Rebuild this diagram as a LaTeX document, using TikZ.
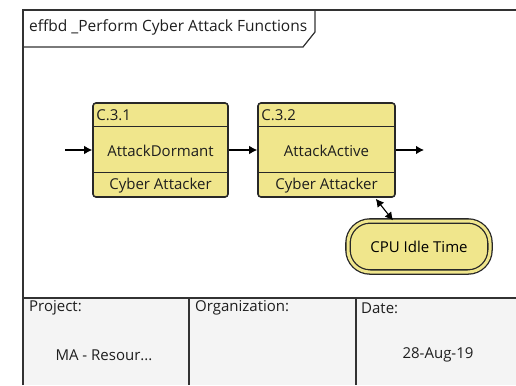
\documentclass[tikz,border=0pt]{standalone}
\usepackage{fontspec}
\setmainfont{Open Sans}
\usetikzlibrary{arrows.meta, positioning, calc}
\definecolor{fnfill}{RGB}{240,230,140}
\definecolor{fnline}{RGB}{40,40,40}
\definecolor{frameline}{RGB}{50,50,50}
\definecolor{cellfill}{RGB}{244,244,244}
\definecolor{txtgray}{RGB}{30,30,30}

\begin{document}
\begin{tikzpicture}[
  x=1pt, y=-1pt,
  font=\fontsize{15}{18}\selectfont,
  fn/.style={draw=fnline, fill=fnfill, rounded corners=3pt, line width=1.6pt,
             minimum width=135pt, minimum height=94pt, inner sep=0pt},
  res/.style={draw=fnline, fill=fnfill, rounded corners=22pt, line width=1.3pt,
              double=fnfill, double distance=3pt, minimum width=142pt,
              minimum height=51pt},
  sep/.style={draw=fnline, line width=1.3pt},
  lbl/.style={inner sep=0pt, text=txtgray},
  flow/.style={-{Latex[length=8pt, width=8.5pt]}, line width=1.1pt},
  biflow/.style={{Latex[length=8pt, width=8.5pt]}-{Latex[length=8pt, width=8.5pt]}, line width=1.1pt},
  frm/.style={draw=frameline, line width=1.8pt},
  cell/.style={font=\fontsize{15}{18}\selectfont, inner sep=0pt, text=txtgray},
]
\useasboundingbox (0,0) rectangle (516,385);

% frame, title tab and footer
\fill[cellfill] (23,298) rectangle (516,385);
\draw[frm] (23,385) -- (23,10) -- (516,10);
\draw[frm, line width=1.2pt] (315,10) -- (315,32) -- (303,47) -- (23,47);
\node[lbl, anchor=west, font=\fontsize{15.5}{18}\selectfont] (title) at (29,27)
  {effbd \_Perform Cyber Attack Functions};
\draw[frm] (23,298) -- (516,298);
\draw[frm] (189,298) -- (189,385);
\draw[frm] (356,298) -- (356,385);
\node[cell, anchor=west] (proj) at (29,308) {Project:};
\node[cell, anchor=west] (org) at (195,308) {Organization:};
\node[cell, anchor=west] (date) at (361,308) {Date:};
\node[cell] (projval) at (104,355) {MA - Resour...};
\node[cell] (dateval) at (438,355) {28-Aug-19};

% functions
\node[fn] (dormant) at (160.5,150) {};
\node[fn, minimum width=137pt] (active) at (326.5,150) {};
\foreach \f/\id/\name in {dormant/C.3.1/AttackDormant, active/C.3.2/AttackActive} {
  \draw[sep] ($(\f.north west)+(0,24)$) -- ($(\f.north east)+(0,24)$);
  \draw[sep] ($(\f.south west)+(0,-25)$) -- ($(\f.south east)+(0,-25)$);
  \node[lbl, anchor=west] at ($(\f.north west)+(4,13)$) {\id};
  \node[lbl] at ($(\f.center)+(0,0.5)$) {\name};
  \node[lbl] at ($(\f.south)+(0,-12)$) {Cyber Attacker};
}

\node[res] (cpu) at (419,246.5) {CPU Idle Time};

\coordinate (in) at (65,150);
\coordinate (out) at (424,150);
\draw[flow] (in) -- (dormant);
\draw[flow] (dormant) -- (active);
\draw[flow] (active) -- (out);
\draw[biflow] ([xshift=-20pt, yshift=-1pt]active.south east) -- ([xshift=-26pt]cpu.north);
\end{tikzpicture}
\end{document}
